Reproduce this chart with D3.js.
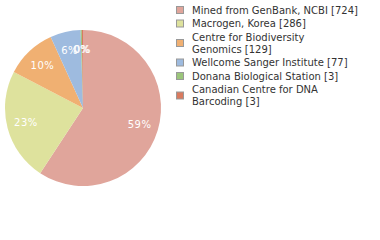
<!DOCTYPE html>
<html><head><meta charset="utf-8">
<script src="https://cdn.jsdelivr.net/npm/d3@7"></script>
<style>body{margin:0;background:#fff}svg{display:block}</style>
</head><body>
<script>
const categories = ["Mined from GenBank, NCBI [724]","Macrogen, Korea [286]","Centre for Biodiversity Genomics [129]","Wellcome Sanger Institute [77]","Donana Biological Station [3]","Canadian Centre for DNA Barcoding [3]"];
const legendLines = [["Mined from GenBank, NCBI [724]"],["Macrogen, Korea [286]"],["Centre for Biodiversity","Genomics [129]"],["Wellcome Sanger Institute [77]"],["Donana Biological Station [3]"],["Canadian Centre for DNA","Barcoding [3]"]];
const values = [724,286,129,77,3,3];
const colors = ["#e0a59b","#dee29d","#f0b072","#9ebbdf","#9bc57a","#d97a5f"];

const W=380,H=240;
const svg=d3.select("body").append("svg").attr("width",W).attr("height",H);
const cx=83,cy=108,R=78;
const total=d3.sum(values);
const pie=d3.pie().sort(null).value(d=>d)(values);
const arc=d3.arc().innerRadius(0).outerRadius(R);
const labArc=d3.arc().innerRadius(59).outerRadius(59);
const g=svg.append("g").attr("transform",`translate(${cx},${cy})`);
g.selectAll("path").data(pie).join("path").attr("d",arc).attr("fill",(d,i)=>colors[i]);
g.selectAll("text").data(pie).join("text")
 .attr("transform",d=>{const c=labArc.centroid(d);return `translate(${c[0]},${c[1]})`;})
 .attr("text-anchor","middle").attr("dy","0.35em")
 .attr("fill","#fff").style("font-family","DejaVu Sans").style("font-size","10px").style("letter-spacing","0.5px")
 .text(d=>Math.floor(d.value/total*100)+"%");

const lg=svg.append("g");
let y=10;
legendLines.forEach((lines,i)=>{
  const n=lines.length;
  const mid=y+(n-1)*6;
  lg.append("rect").attr("x",176.5).attr("y",mid-3.5).attr("width",7).attr("height",7)
    .attr("fill",colors[i]).attr("stroke","#999").attr("stroke-width",1);
  lines.forEach((t,j)=>{
    lg.append("text").attr("x",192).attr("y",y+j*12).attr("dy","0.35em")
      .style("font-family","DejaVu Sans").style("font-size","10px").attr("fill","#333").text(t);
  });
  y+=n*12+1.5;
});
</script>
</body></html>
